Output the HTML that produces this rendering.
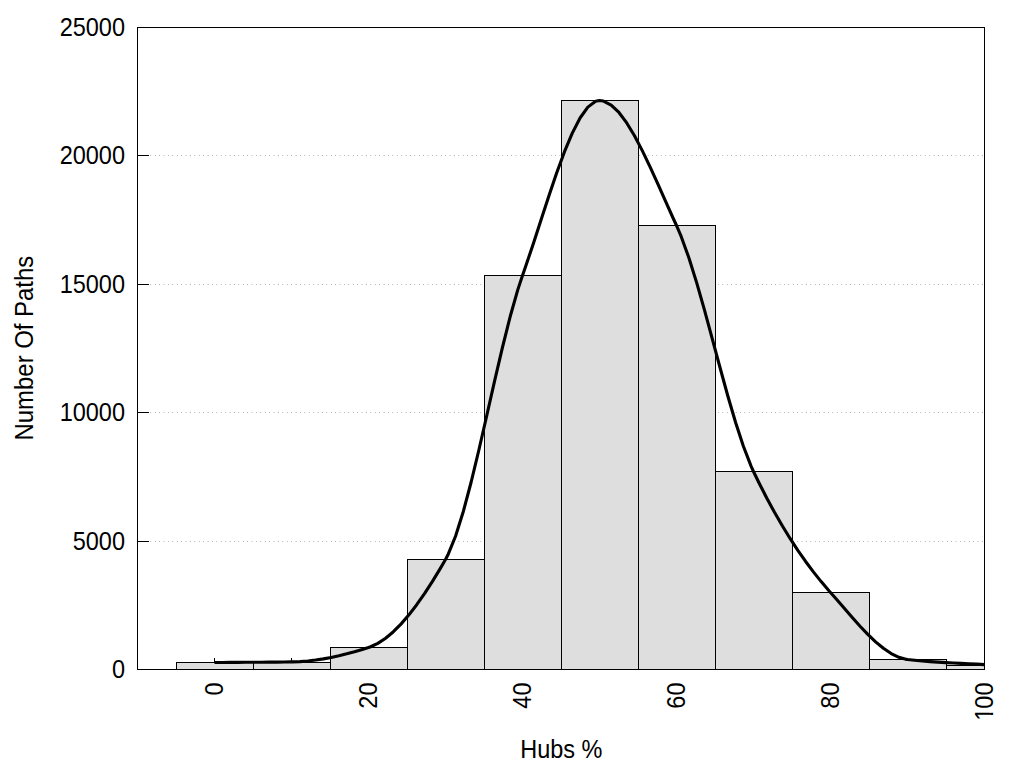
<!DOCTYPE html>
<html>
<head>
<meta charset="utf-8">
<title>Hubs % histogram</title>
<style>
html,body{margin:0;padding:0;background:#fff;width:1024px;height:768px;overflow:hidden}
svg{display:block}
text{font-family:"Liberation Sans",Arial,Helvetica,sans-serif;font-size:23.5px;fill:#000}
</style>
</head>
<body>
<svg width="1024" height="768" viewBox="0 0 1024 768">
<rect x="0" y="0" width="1024" height="768" fill="#fff"/>
<g stroke="#707070" stroke-width="1" stroke-dasharray="0.5 3.9" stroke-dashoffset="-0.4"><line x1="137" y1="155.5" x2="984" y2="155.5"/><line x1="137" y1="284.5" x2="984" y2="284.5"/><line x1="137" y1="412.5" x2="984" y2="412.5"/><line x1="137" y1="541.5" x2="984" y2="541.5"/></g>
<g stroke="#000" stroke-width="1" shape-rendering="crispEdges"><line x1="137" y1="155.5" x2="149" y2="155.5"/><line x1="137" y1="284.5" x2="149" y2="284.5"/><line x1="137" y1="412.5" x2="149" y2="412.5"/><line x1="137" y1="541.5" x2="149" y2="541.5"/></g>
<g fill="#dedede" shape-rendering="crispEdges"><rect x="177" y="663" width="76" height="6"/><rect x="254" y="663" width="76" height="6"/><rect x="331" y="648" width="76" height="21"/><rect x="408" y="560" width="76" height="109"/><rect x="485" y="276" width="76" height="393"/><rect x="562" y="101" width="76" height="568"/><rect x="639" y="226" width="76" height="443"/><rect x="716" y="472" width="76" height="197"/><rect x="793" y="593" width="76" height="76"/><rect x="870" y="660" width="76" height="9"/><rect x="947" y="666" width="37" height="3"/></g>
<g fill="none" stroke="#000" stroke-width="1" shape-rendering="crispEdges"><rect x="176.5" y="662.5" width="77" height="7"/><rect x="253.5" y="662.5" width="77" height="7"/><rect x="330.5" y="647.5" width="77" height="22"/><rect x="407.5" y="559.5" width="77" height="110"/><rect x="484.5" y="275.5" width="77" height="394"/><rect x="561.5" y="100.5" width="77" height="569"/><rect x="638.5" y="225.5" width="77" height="444"/><rect x="715.5" y="471.5" width="77" height="198"/><rect x="792.5" y="592.5" width="77" height="77"/><rect x="869.5" y="659.5" width="77" height="10"/><rect x="946.5" y="665.5" width="38" height="4"/></g>
<polyline fill="none" stroke="#000" stroke-width="3.1" stroke-linejoin="round" points="214.50,662.50 222.28,662.44 230.06,662.40 237.83,662.35 245.61,662.31 253.39,662.27 261.17,662.22 268.94,662.16 276.72,662.08 284.50,662.00 291.50,661.90 292.28,661.89 300.06,661.58 307.83,660.96 315.61,660.05 323.39,658.86 331.17,657.42 338.94,655.74 346.72,653.84 354.50,651.74 362.28,649.45 368.50,647.50 370.06,646.97 377.83,643.35 385.61,638.23 393.39,631.70 401.17,623.87 408.94,614.84 416.72,604.72 424.50,593.61 432.28,581.62 440.06,568.85 445.50,559.50 447.83,555.10 455.61,536.02 463.39,511.21 471.17,482.01 478.94,449.75 486.72,415.77 494.50,381.43 502.28,348.07 510.06,317.01 517.83,289.62 522.50,275.50 525.61,266.61 533.39,243.42 541.17,219.50 548.94,195.69 556.72,172.82 564.50,151.70 572.28,133.15 580.06,118.02 587.83,107.12 595.61,101.27 599.50,100.50 603.39,101.02 611.17,105.01 618.94,112.49 626.72,122.93 634.50,135.82 642.28,150.63 650.06,166.86 657.83,183.96 665.61,201.43 673.39,218.74 676.50,225.50 681.17,236.41 688.94,257.98 696.72,282.91 704.50,310.19 712.28,338.80 720.06,367.73 727.83,395.97 735.61,422.50 743.39,446.30 751.17,466.36 753.50,471.50 758.94,482.73 766.72,497.98 774.50,512.33 782.28,525.80 790.06,538.46 797.83,550.33 805.61,561.45 813.39,571.87 821.17,581.62 828.94,590.75 830.50,592.50 836.72,599.57 844.50,608.58 852.28,617.55 860.06,626.24 867.83,634.43 875.61,641.86 883.39,648.31 891.17,653.54 898.94,657.32 906.72,659.39 907.50,659.50 914.50,660.29 922.28,661.03 930.06,661.64 937.83,662.14 945.61,662.58 953.39,662.97 961.17,663.33 968.94,663.71 976.72,664.13 984.50,664.60"/>
<g fill="#000" shape-rendering="crispEdges"><rect x="214" y="658" width="1" height="4"/><rect x="291" y="658" width="1" height="3"/></g>
<rect x="137.5" y="27.5" width="847" height="642" fill="none" stroke="#000" stroke-width="1" shape-rendering="crispEdges"/>
<g text-anchor="end"><text transform="translate(125,35.80) scale(1,1.060)">25000</text><text transform="translate(125,163.80) scale(1,1.060)">20000</text><text transform="translate(125,292.80) scale(1,1.060)">15000</text><text transform="translate(125,420.80) scale(1,1.060)">10000</text><text transform="translate(125,549.80) scale(1,1.060)">5000</text><text transform="translate(125,677.80) scale(1,1.060)">0</text></g>
<g text-anchor="end"><text transform="translate(223.10,682.5) rotate(-90) scale(1,1.060)">0</text><text transform="translate(377.10,682.5) rotate(-90) scale(1,1.060)">20</text><text transform="translate(531.10,682.5) rotate(-90) scale(1,1.060)">40</text><text transform="translate(685.10,682.5) rotate(-90) scale(1,1.060)">60</text><text transform="translate(839.10,682.5) rotate(-90) scale(1,1.060)">80</text><g transform="translate(993.10,682.5) rotate(-90) scale(1,1.060)"><text>1<tspan dx="-0.9">00</tspan></text><path fill="#fff" d="M-37.3,-3.2H-32.5V1.2H-37.3Z M-30.3,-3.2H-25.6V1.2H-30.3Z"/></g></g>
<text transform="translate(561.3,757.8) scale(1,1.07)" text-anchor="middle">Hubs %</text>
<text transform="translate(33.2,348.1) rotate(-90) scale(1.018,1.06)" text-anchor="middle" style="font-size:23.5px">Number Of Paths</text>
</svg>
</body>
</html>
